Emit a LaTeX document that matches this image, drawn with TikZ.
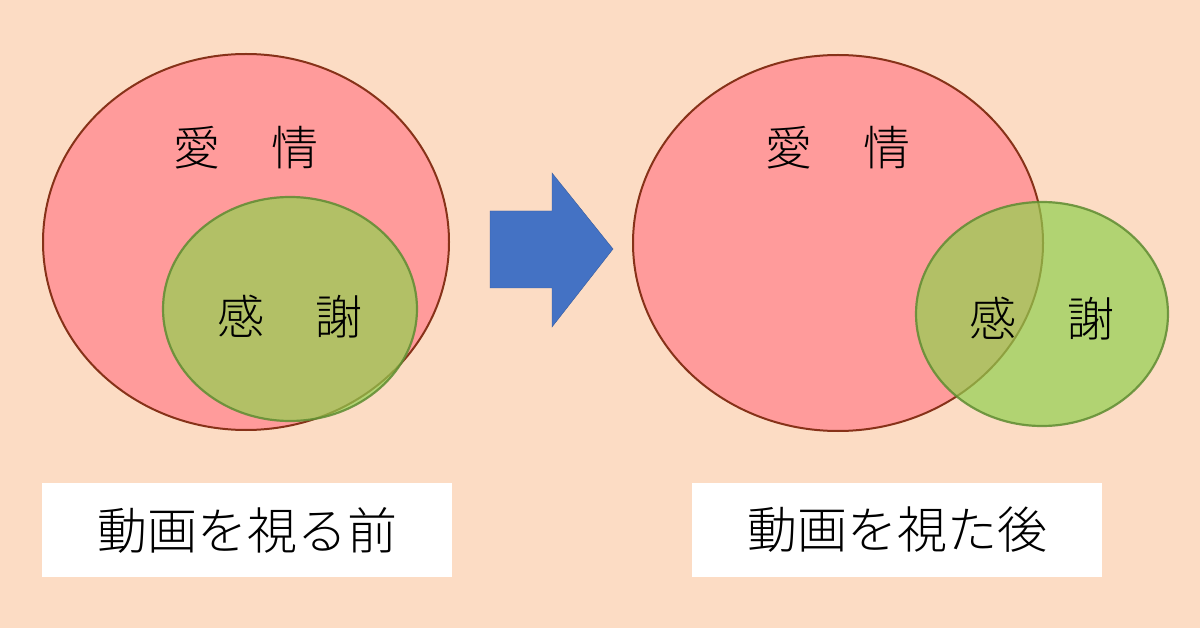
\documentclass[tikz,border=0pt]{standalone}
\usepackage{fontspec}
\newfontfamily\cjk{Noto Sans CJK JP Light}
\definecolor{bgpeach}{RGB}{252,220,196}
\definecolor{pinkfill}{RGB}{255,155,155}
\definecolor{pinkline}{RGB}{135,50,25}
\definecolor{greenfill}{RGB}{146,208,80}
\definecolor{greenline}{RGB}{95,140,50}
\definecolor{arrowblue}{RGB}{68,114,196}
\tikzset{
  bigset/.style={draw=pinkline, line width=2pt, fill=pinkfill},
  smallset/.style={draw=greenline, line width=2.2pt, fill=greenfill, fill opacity=0.7, draw opacity=0.85},
  setlabel/.style={font=\cjk\fontsize{47}{50}\selectfont, text=black, inner sep=0pt},
  caption/.style={fill=white, minimum width=410pt, minimum height=94pt, inner sep=0pt, font=\cjk\fontsize{50}{54}\selectfont, text=black}
}
\begin{document}
\begin{tikzpicture}[x=1pt,y=-1pt]
\fill[bgpeach] (0,0) rectangle (1200,628);
\useasboundingbox (0,0) rectangle (1200,628);
% left diagram
\draw[bigset] (246,242) ellipse [x radius=203, y radius=188];
\draw[smallset] (290,309) ellipse [x radius=127, y radius=112];
\node[setlabel] (aiL) at (246,148) {愛\hspace{1.1em}情};
\node[setlabel] (kaL) at (290,317) {感\hspace{1.1em}謝};
% arrow
\fill[arrowblue, draw=arrowblue!80!black, line width=0.4pt]
  (490,211) -- (552,211) -- (552,173) -- (613,249) -- (552,327) -- (552,288) -- (490,288) -- cycle;
% right diagram
\draw[bigset] (838,243) ellipse [x radius=205, y radius=188];
\draw[smallset] (1042,314) ellipse [x radius=126, y radius=112];
\node[setlabel] (aiR) at (838,148) {愛\hspace{1.1em}情};
\node[setlabel] (kaR) at (1042,319) {感\hspace{1.1em}謝};
% captions
\node[caption] (capL) at (247,530) {動画を視る前};
\node[caption] (capR) at (897,530) {動画を視た後};
\end{tikzpicture}
\end{document}
